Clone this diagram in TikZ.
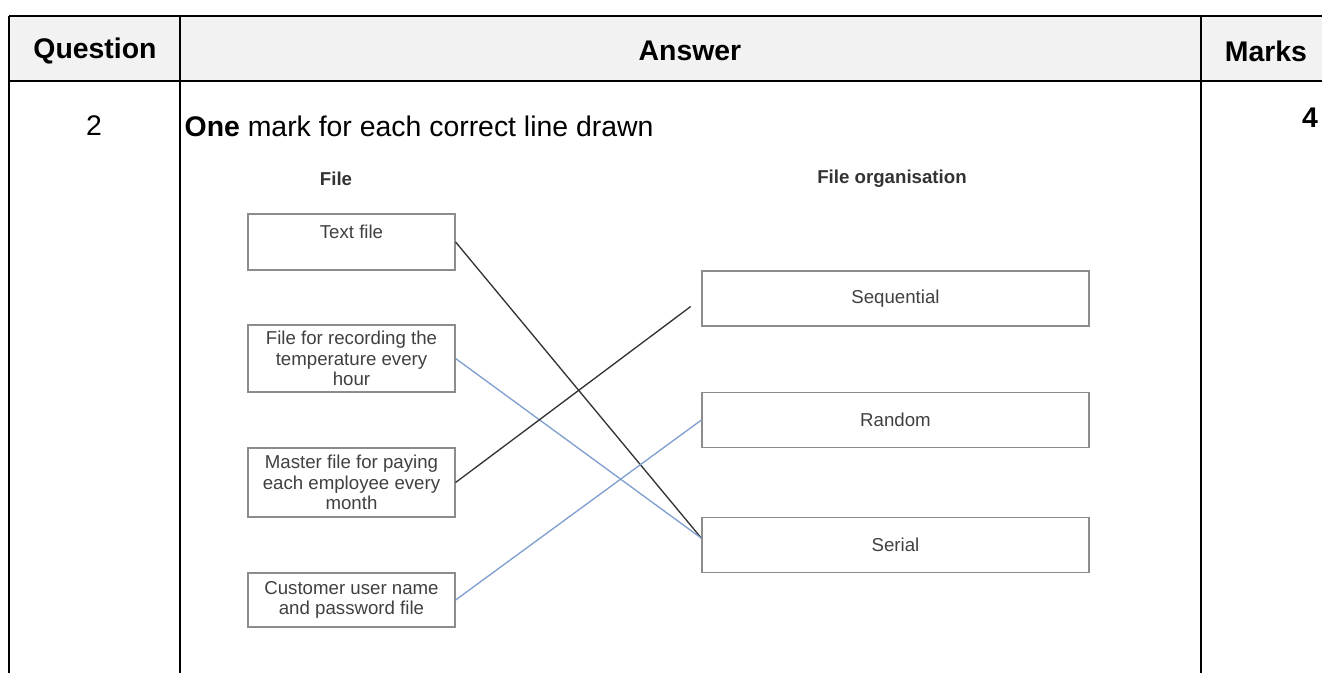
\documentclass[tikz,border=0pt]{standalone}
\usepackage{fontspec}
\setmainfont{Liberation Sans}
\usepackage{tikz}

\definecolor{headgray}{HTML}{F2F2F2}
\definecolor{lineblue}{HTML}{7F9FCF}

\tikzset{
    headtext/.style={font=\fontsize{21.3}{25}\selectfont\bfseries},
    celltext/.style={font=\fontsize{21.3}{25}\selectfont},
    filebox/.style={draw=black!45, line width=0.9pt, text=black!75, align=center,
        font=\fontsize{14}{15.5}\selectfont, minimum width=155.25pt, inner sep=0pt},
    orgbox/.style={filebox, minimum width=290.25pt, minimum height=41.25pt},
    colhead/.style={text=black!80, font=\fontsize{14}{16}\selectfont\bfseries},
}

\begin{document}
\begin{tikzpicture}[x=0.75pt, y=-0.75pt]
    \useasboundingbox (0,0) rectangle (1322,673);
    % Draw table
    \fill[headgray] (9,16) rectangle (1322,81);
    \draw[line width=0.9pt] (9,16) -- (1322,16);
    \draw[line width=1.3pt] (9,81) -- (1322,81);
    \draw[line width=0.9pt] (9,16) -- (9,673);
    \draw[line width=0.9pt] (180,16) -- (180,673);
    \draw[line width=0.9pt] (1201,16) -- (1201,673);
    % Header and first row
    \node[headtext] (question) at (95,51) {Question};
    \node[headtext] (answer) at (690,51) {Answer};
    \node[headtext] (marks) at (1266,51) {Marks};
    \node[celltext] (qnum) at (94,126) {2};
    \node[celltext, anchor=west] (guide) at (180,126) {\textbf{One} mark for each correct line drawn};
    \node[headtext] (mark) at (1310,118) {4};
    % Column headings
    \node[colhead] (filehead) at (336,179) {File};
    \node[colhead] (orghead) at (892,179) {File organisation};
    % Left boxes
    \node[filebox, minimum height=42pt] (txt) at (351.5,242) {Text file\\~};
    \node[filebox, minimum height=50.25pt] (temp) at (351.5,358.5) {File for recording the\\temperature every\\hour};
    \node[filebox, minimum height=51.75pt] (mast) at (351.5,482.5) {Master file for paying\\each employee every\\month};
    \node[filebox, minimum height=40.5pt] (cust) at (351.5,600) {Customer user name\\and password file};
    % Right boxes
    \node[orgbox] (seq) at (895.5,298.5) {Sequential};
    \node[orgbox] (rnd) at (895.5,420) {Random};
    \node[orgbox] (ser) at (895.5,545) {Serial};
    % Draw the lines
    \draw[black!80, line width=1pt] (txt.east) -- (ser.178);
    \draw[lineblue, line width=1pt] (temp.east) -- (ser.178);
    \draw[black!80, line width=1pt, shorten >=10pt] (mast.east) -- (seq.west);
    \draw[lineblue, line width=1pt] (cust.east) -- (rnd.west);
\end{tikzpicture}
\end{document}
